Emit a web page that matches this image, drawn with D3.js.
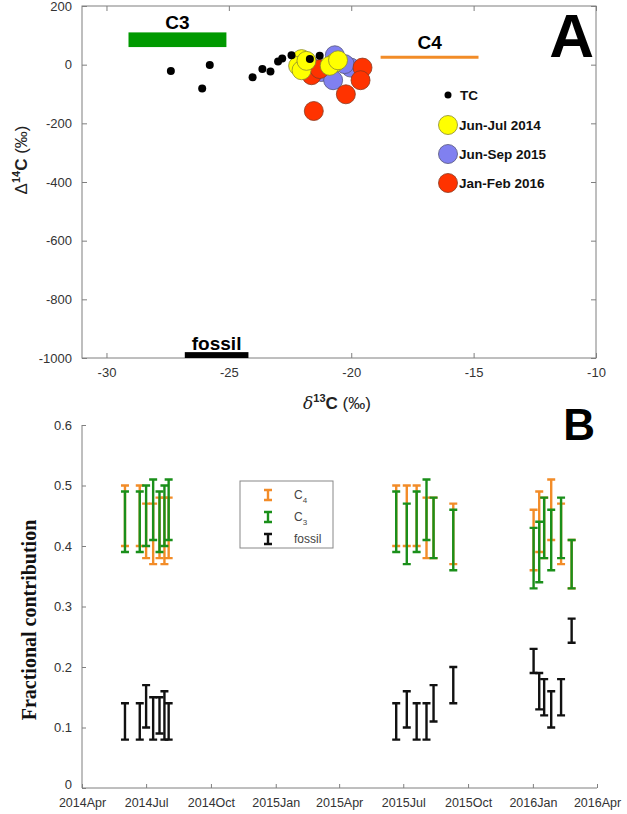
<!DOCTYPE html>
<html><head><meta charset="utf-8">
<script src="https://cdn.jsdelivr.net/npm/d3@7"></script>
<style>body{margin:0;background:#fff}svg{display:block}</style>
</head><body>
<svg id="c" width="627" height="814"></svg>
<script>
// ---------- Panel A data ----------
const tcD13 = [-27.37,-25.78,-26.09,-24.03,-23.63,-23.30,-22.99,-22.82,-22.44,-21.69,-21.29];
const tcD14 = [-22,-1,-81,-43,-15,-23,11,21,32,19,30];
const y14D13 = [-22.03,-22.17,-22.03,-20.67,-20.88,-20.54,-21.83];
const y14D14 = [19,-4,-19,7,-4,15,13];
const y15D13 = [-20.67,-21.22,-20.74,-20.02,-21.76,-20.27];
const y15D14 = [32,-25,-53,-10,2,2];
const y16D13 = [-21.62,-19.54,-19.62,-20.22,-21.53,-21.29];
const y16D14 = [-36,-10,-53,-101,-158,-15];
const aXTicks = [-30,-25,-20,-15,-10];
const aYTicks = [200,0,-200,-400,-600,-800,-1000];
const legendA = ["TC","Jun-Jul 2014","Jun-Sep 2015","Jan-Feb 2016"];
// source ranges
const c3Range = {x:[-29.1,-25.1], y:[60,110]};
const c4Range = {x:[-18.8,-14.8], y:25};
const fossilRange = {x:[-26.8,-24.2], y:[-1000,-980]};

// ---------- Panel B data ----------
const dates = ["2014-06-01","2014-06-22","2014-07-01","2014-07-11","2014-07-20","2014-07-27","2014-08-02",
  "2015-06-21","2015-07-06","2015-07-20","2015-08-03","2015-08-13","2015-09-10",
  "2016-01-02","2016-01-10","2016-01-17","2016-01-27","2016-02-10","2016-02-25"];
const c4Low  = [0.40,0.40,0.38,0.37,0.38,0.37,0.38, 0.40,0.40,0.40,0.38,0.38,0.37, 0.36,0.39,0.38,0.41,0.37,0.33];
const c4High = [0.50,0.50,0.47,0.47,0.48,0.48,0.48, 0.50,0.50,0.50,0.48,0.48,0.47, 0.46,0.49,0.48,0.51,0.47,0.41];
const c3Low  = [0.39,0.39,0.40,0.41,0.39,0.40,0.41, 0.39,0.37,0.39,0.41,0.38,0.36, 0.33,0.34,0.38,0.36,0.38,0.33];
const c3High = [0.49,0.49,0.50,0.51,0.49,0.50,0.51, 0.49,0.47,0.49,0.51,0.48,0.46, 0.43,0.44,0.48,0.46,0.48,0.41];
const fLow   = [0.08,0.08,0.10,0.08,0.09,0.08,0.08, 0.08,0.10,0.08,0.08,0.11,0.14, 0.19,0.13,0.12,0.10,0.12,0.24];
const fHigh  = [0.14,0.14,0.17,0.15,0.15,0.16,0.14, 0.14,0.16,0.14,0.14,0.17,0.20, 0.23,0.19,0.18,0.16,0.18,0.28];
const bYTicks = [0,0.1,0.2,0.3,0.4,0.5,0.6];
const bXTicks = ["2014-04-01","2014-07-01","2014-10-01","2015-01-01","2015-04-01","2015-07-01","2015-10-01","2016-01-01","2016-04-01"];
const bXLabels = ["2014Apr","2014Jul","2014Oct","2015Jan","2015Apr","2015Jul","2015Oct","2016Jan","2016Apr"];

const svg = d3.select("#c");
const axisCol = "#7f7f7f", tickTxt = "#333";
const sans = "Arial, 'Liberation Sans', sans-serif";
const hyph = d => String(d).replace("\u2212","-");

// ================= Panel A =================
const xA = d3.scaleLinear().domain([-31,-10]).range([82,596]);
const yA = d3.scaleLinear().domain([-1000,200]).range([358,6]);
const gA = svg.append("g");
gA.append("rect").attr("x",82).attr("y",6).attr("width",596-82).attr("height",358-6)
  .attr("fill","none").attr("stroke",axisCol).attr("stroke-width",1);
const axB = gA.append("g").attr("transform","translate(0,358)")
  .call(d3.axisBottom(xA).tickValues(aXTicks).tickSize(-5).tickPadding(10).tickFormat(hyph));
const axT = gA.append("g").attr("transform","translate(0,6)")
  .call(d3.axisTop(xA).tickValues(aXTicks).tickSize(-5).tickFormat(""));
const axL = gA.append("g").attr("transform","translate(82,0)")
  .call(d3.axisLeft(yA).tickValues(aYTicks).tickSize(-5).tickPadding(10).tickFormat(hyph));
const axR = gA.append("g").attr("transform","translate(596,0)")
  .call(d3.axisRight(yA).tickValues(aYTicks).tickSize(-5).tickFormat(""));
[axB,axT,axL,axR].forEach(a=>{a.select(".domain").remove();a.selectAll("line").attr("stroke",axisCol);
  a.selectAll("text").attr("fill",tickTxt).style("font-family",sans).style("font-size","13px");});

// source bars
gA.append("rect").attr("x",xA(c3Range.x[0])).attr("y",yA(c3Range.y[1]))
  .attr("width",xA(c3Range.x[1])-xA(c3Range.x[0])).attr("height",yA(c3Range.y[0])-yA(c3Range.y[1])).attr("fill","#009900");
gA.append("text").attr("x",(xA(c3Range.x[0])+xA(c3Range.x[1]))/2).attr("y",29).attr("text-anchor","middle")
  .style("font-family",sans).style("font-weight","bold").style("font-size","19px").text("C3");
gA.append("line").attr("x1",xA(c4Range.x[0])).attr("x2",xA(c4Range.x[1])).attr("y1",yA(c4Range.y)).attr("y2",yA(c4Range.y))
  .attr("stroke","#f28c28").attr("stroke-width",3);
gA.append("text").attr("x",(xA(c4Range.x[0])+xA(c4Range.x[1]))/2).attr("y",49).attr("text-anchor","middle")
  .style("font-family",sans).style("font-weight","bold").style("font-size","19px").text("C4");
gA.append("rect").attr("x",xA(fossilRange.x[0])).attr("y",yA(fossilRange.y[1]))
  .attr("width",xA(fossilRange.x[1])-xA(fossilRange.x[0])).attr("height",yA(fossilRange.y[0])-yA(fossilRange.y[1])).attr("fill","#000");
gA.append("text").attr("x",(xA(fossilRange.x[0])+xA(fossilRange.x[1]))/2).attr("y",350).attr("text-anchor","middle")
  .style("font-family",sans).style("font-weight","bold").style("font-size","19px").text("fossil");

// scatter
function circles(xs, ys, fill, stroke, r){
  gA.append("g").selectAll("circle").data(xs.map((d,i)=>[d,ys[i]])).join("circle")
    .attr("cx",d=>xA(d[0])).attr("cy",d=>yA(d[1])).attr("r",r)
    .attr("fill",fill).attr("stroke",stroke).attr("stroke-width",0.8);
}
circles(y15D13,y15D14,"#8080f0","#55557a",9.5);
circles(y16D13,y16D14,"#ff3300","#8a3a20",9.5);
circles(y14D13,y14D14,"#ffff00","#8a8a30",9.5);
circles(tcD13,tcD14,"#000","none",4);

// legend A
const legCols = [["#000","none",3.5],["#ffff00","#8a8a30",9.5],["#8080f0","#55557a",9.5],["#ff3300","#8a3a20",9.5]];
const legY = [95,125,154,183];
legendA.forEach((t,i)=>{
  gA.append("circle").attr("cx",448).attr("cy",legY[i]).attr("r",legCols[i][2]).attr("fill",legCols[i][0])
    .attr("stroke",legCols[i][1]).attr("stroke-width",0.8);
  gA.append("text").attr("x",i===0?460:459).attr("y",legY[i]+5).style("font-family",sans).style("font-weight","bold")
    .style("font-size","13.5px").attr("fill","#111").text(t);
});
gA.append("text").attr("x",594).attr("y",57).attr("text-anchor","end").style("font-family",sans)
  .style("font-weight","bold").style("font-size","62px").text("A");
const yl = gA.append("text").attr("transform","translate(27,160) rotate(-90)").attr("text-anchor","middle")
  .style("font-family",sans).style("font-size","17px").attr("fill","#222");
yl.append("tspan").text("Δ");
yl.append("tspan").attr("dy",-7).style("font-size","11px").style("font-weight","bold").text("14");
yl.append("tspan").attr("dy",7).style("font-weight","bold").text("C ");
yl.append("tspan").text("(‰)");
const xl = gA.append("text").attr("x",337).attr("y",409).attr("text-anchor","middle")
  .style("font-family",sans).style("font-size","17px").attr("fill","#222");
xl.append("tspan").style("font-style","italic").style("font-family","'DejaVu Serif', serif").text("δ");
xl.append("tspan").attr("dy",-7).style("font-size","11px").style("font-weight","bold").text("13");
xl.append("tspan").attr("dy",7).style("font-weight","bold").text("C ");
xl.append("tspan").text("(‰)");

// ================= Panel B =================
const parse = d3.timeParse("%Y-%m-%d");
const xB = d3.scaleTime().domain([parse("2014-04-01"),parse("2016-04-01")]).range([82,597]);
const yB = d3.scaleLinear().domain([0,0.6]).range([788,425]);
const gB = svg.append("g");
gB.append("line").attr("x1",82).attr("x2",82).attr("y1",425).attr("y2",788).attr("stroke",axisCol);
gB.append("line").attr("x1",82).attr("x2",597).attr("y1",788).attr("y2",788).attr("stroke",axisCol);
const bxAx = gB.append("g").attr("transform","translate(0,788)")
  .call(d3.axisBottom(xB).tickValues(bXTicks.map(parse)).tickSize(-4).tickPadding(10)
  .tickFormat((d,i)=>bXLabels[i]));
const byAx = gB.append("g").attr("transform","translate(82,0)")
  .call(d3.axisLeft(yB).tickValues(bYTicks).tickSize(-4).tickPadding(10).tickFormat(d=>d===0?"0":d3.format(".1f")(d)));
[bxAx,byAx].forEach(a=>{a.select(".domain").remove();a.selectAll("line").attr("stroke",axisCol);
  a.selectAll("text").attr("fill",tickTxt).style("font-family",sans);});
bxAx.selectAll("text").style("font-size","12.5px");
byAx.selectAll("text").style("font-size","13px");
byAx.selectAll("text").filter(d=>d===0).attr("dy","0.05em");

function errbars(lo, hi, col){
  const g = gB.append("g").attr("stroke",col).attr("stroke-width",2.4).attr("fill","none");
  dates.forEach((d,i)=>{
    const x = xB(parse(d)), y1 = yB(lo[i]), y2 = yB(hi[i]);
    g.append("path").attr("d",`M${x},${y1}V${y2}M${x-4},${y1}H${x+4}M${x-4},${y2}H${x+4}`);
  });
}
errbars(c4Low,c4High,"#f28c28");
errbars(c3Low,c3High,"#1a8f1a");
errbars(fLow,fHigh,"#111");

// legend B
gB.append("rect").attr("x",240).attr("y",481).attr("width",93).attr("height",67)
  .attr("fill","#fff").attr("stroke","#888").attr("stroke-width",1);
const legB = [["#f28c28","C","4"],["#1a8f1a","C","3"],["#111","fossil",""]];
legB.forEach((l,i)=>{
  const cy = 495 + i*22;
  gB.append("path").attr("d",`M268,${cy-5}V${cy+5}M264,${cy-5}H272M264,${cy+5}H272`)
    .attr("stroke",l[0]).attr("stroke-width",2.4).attr("fill","none");
  const t = gB.append("text").attr("x",294).attr("y",cy+4).style("font-family",sans).style("font-size","12px").attr("fill","#444");
  t.append("tspan").text(l[1]);
  if(l[2]) t.append("tspan").attr("dy",4).style("font-size","8px").text(l[2]);
});
gB.append("text").attr("x",595).attr("y",440).attr("text-anchor","end").style("font-family",sans)
  .style("font-weight","bold").style("font-size","44px").text("B");
gB.append("text").attr("transform","translate(36,620) rotate(-90)").attr("text-anchor","middle")
  .style("font-family","'Liberation Serif','Times New Roman',serif").style("font-weight","bold").style("font-size","20px")
  .attr("fill","#111").text("Fractional contribution");
</script>
</body></html>
